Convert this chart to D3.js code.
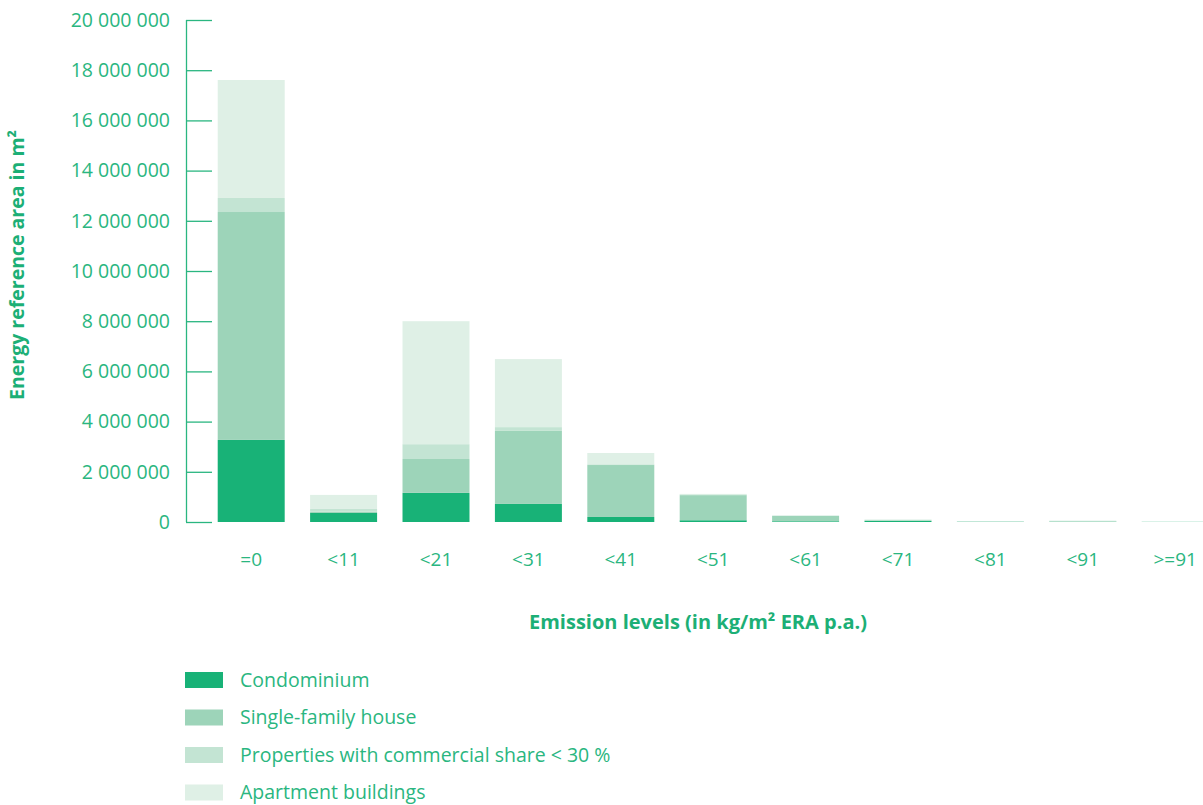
<!DOCTYPE html>
<html>
<head>
<meta charset="utf-8">
<script src="https://cdn.jsdelivr.net/npm/d3@7"></script>
<style>
    body { margin: 0; background: #fff; }
    svg { font-family: "Open Sans", "Noto Sans", sans-serif; }
</style>
</head>
<body>
<div id="chart"></div>
<script>

// emission level bins
var levels = ["=0", "<11", "<21", "<31", "<41", "<51", "<61", "<71", "<81", "<91", ">=91"];

// energy reference area (m2) per building type
var condominium  = [3270000, 360000, 1160000, 720000, 200000, 70000, 30000, 40000, 8000, 10000, 5000];
var singleFamily = [9080000, 50000, 1350000, 2910000, 2070000, 1000000, 220000, 30000, 12000, 20000, 5000];
var commercial   = [560000, 110000, 590000, 150000, 30000, 30000, 0, 20000, 0, 20000, 0];
var apartments   = [4700000, 560000, 4900000, 2710000, 450000, 20000, 0, 10000, 0, 0, 0];

var seriesNames = ["Condominium", "Single-family house", "Properties with commercial share < 30 %", "Apartment buildings"];
var seriesColors = ["#18b277", "#9dd4b9", "#c3e4d3", "#dff0e6"];
var yTicks = [0, 2000000, 4000000, 6000000, 8000000, 10000000, 12000000, 14000000, 16000000, 18000000, 20000000];

var textColor = "#2ab680";
var titleColor = "#1caf76";

var margin = {top: 20, left: 186};
var width = 1203, height = 805;

var svg = d3.select("#chart").append("svg")
    .attr("width", width)
    .attr("height", height);

var rows = levels.map(function(d, i) {
    return {level: d, c0: condominium[i], c1: singleFamily[i], c2: commercial[i], c3: apartments[i]};
});

var stack = d3.stack().keys(["c0", "c1", "c2", "c3"]);
var stacked = stack(rows);

var x = d3.scaleBand()
    .domain(levels)
    .range([205, 205 + 92.4 * levels.length])
    .paddingInner(0.275)
    .paddingOuter(0.1375);

var y = d3.scaleLinear()
    .domain([0, 20000000])
    .range([522, 20]);

var fmt = function(d) {
    return d3.format(",")(d).replace(/,/g, " ");
};

// bars
svg.append("g").selectAll("g")
    .data(stacked)
    .enter().append("g")
    .attr("fill", function(d, i) { return seriesColors[i]; })
    .selectAll("rect")
    .data(function(d) { return d; })
    .enter().append("rect")
    .attr("x", function(d) { return x(d.data.level); })
    .attr("width", x.bandwidth())
    .attr("y", function(d) { return y(d[1]); })
    .attr("height", function(d) { return Math.max(0, y(d[0]) - y(d[1])); });

// y axis
var yAxis = d3.axisRight(y)
    .tickValues(yTicks)
    .tickSize(26)
    .tickFormat("");

var yg = svg.append("g")
    .attr("transform", "translate(" + margin.left + ",0)")
    .call(yAxis);
yg.select(".domain").attr("stroke", textColor).attr("stroke-width", 1.3).attr("d", "M0.5," + y(20000000) + "V" + y(0));
yg.selectAll(".tick line").attr("stroke", textColor).attr("stroke-width", 1.3);

svg.append("g").selectAll("text")
    .data(yTicks)
    .enter().append("text")
    .attr("x", 170)
    .attr("y", function(d) { return y(d); })
    .attr("dy", "0.35em")
    .attr("text-anchor", "end")
    .attr("fill", textColor)
    .style("font-size", "19.5px")
    .style("font-weight", 400)
    .text(fmt);

// x labels
svg.append("g").selectAll("text")
    .data(levels)
    .enter().append("text")
    .attr("x", function(d) { return x(d) + x.bandwidth() / 2; })
    .attr("y", 559)
    .attr("dy", "0.35em")
    .attr("text-anchor", "middle")
    .attr("fill", textColor)
    .style("font-size", "19px")
    .style("font-weight", 400)
    .text(function(d) { return d; });

// axis titles
svg.append("text")
    .attr("transform", "translate(24,265) rotate(-90)")
    .attr("text-anchor", "middle")
    .attr("fill", titleColor)
    .style("font-size", "19.5px")
    .style("font-weight", 700)
    .text("Energy reference area in m²");

svg.append("text")
    .attr("x", 698)
    .attr("y", 622)
    .attr("dy", "0.35em")
    .attr("text-anchor", "middle")
    .attr("fill", titleColor)
    .style("font-size", "20px")
    .style("font-weight", 700)
    .text("Emission levels (in kg/m² ERA p.a.)");

// legend
var legend = svg.append("g").selectAll("g")
    .data(seriesNames)
    .enter().append("g")
    .attr("transform", function(d, i) { return "translate(185," + (680 + i * 37.5) + ")"; });

legend.append("rect")
    .attr("x", 0)
    .attr("y", -8)
    .attr("width", 38)
    .attr("height", 16)
    .attr("fill", function(d, i) { return seriesColors[i]; });

legend.append("text")
    .attr("x", 55)
    .attr("y", 0)
    .attr("dy", "0.35em")
    .attr("fill", textColor)
    .style("font-size", "19.5px")
    .style("font-weight", 400)
    .text(function(d) { return d; });

</script>
</body>
</html>
